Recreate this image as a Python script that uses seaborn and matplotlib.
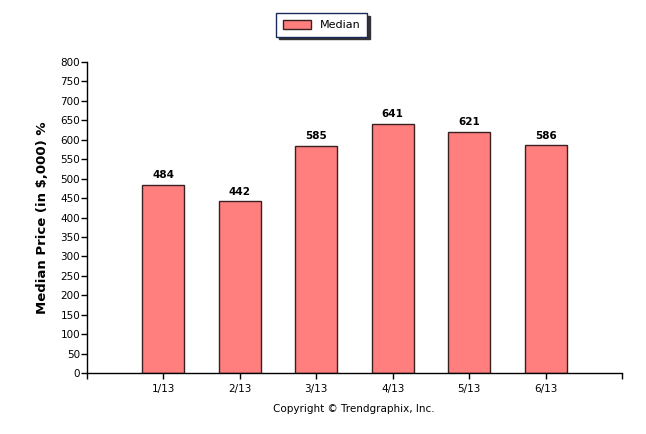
import pandas as pd
import numpy as np
import matplotlib.pyplot as plt
import seaborn as sns

# Chart data
months = ["1/13", "2/13", "3/13", "4/13", "5/13", "6/13"]
median_price = [484, 442, 585, 641, 621, 586]

df = pd.DataFrame({"month": months, "median": median_price})

sns.set_style("white", {"xtick.bottom": True, "ytick.left": True,
                        "text.color": "black", "xtick.color": "black",
                        "ytick.color": "black", "axes.labelcolor": "black"})
plt.rcParams['font.family'] = ['DejaVu Sans']

fig = plt.figure(figsize=(6.46, 4.34), dpi=100)
ax = fig.add_axes([0.1347, 0.1406, 0.8283, 0.7164])

sns.barplot(data=df, x="month", y="median", color="#ff7f7f", saturation=1,
            width=0.55, edgecolor="#3a2020", linewidth=1.0, ax=ax, label="Median")

# value labels
for i, v in enumerate(df["median"]):
    ax.text(i, v + 12, str(v), ha="center", va="bottom", fontsize=7.5, fontweight="bold")

ax.set_xlim(-1, 6)
ax.set_ylim(0, 800)
ax.set_yticks(np.arange(0, 801, 50))
ax.set_xticks([-1] + list(range(len(months))) + [6])
ax.set_xticklabels([""] + months + [""])
ax.tick_params(axis="both", labelsize=7.5, direction="out", length=4, width=1, color="black")
ax.tick_params(axis="x", pad=4)
ax.tick_params(axis="y", pad=1)
for s in ["top", "right"]:
    ax.spines[s].set_visible(False)
for s in ["left", "bottom"]:
    ax.spines[s].set_color("black")
    ax.spines[s].set_linewidth(1)

ax.set_xlabel("")
ax.set_ylabel("Median Price (in $,000) %", fontsize=9.5, fontweight="bold", labelpad=8)

handles, labels = ax.get_legend_handles_labels()
if ax.get_legend():
    ax.get_legend().remove()
leg = fig.legend(handles, labels, loc="center", bbox_to_anchor=(0.498, 0.943), frameon=True,
                 fancybox=False, shadow={"ox": 2, "oy": -2, "color": "#333333", "alpha": 1},
                 fontsize=8, handlelength=2.5, handleheight=0.9, borderpad=0.6)
leg.get_frame().set_edgecolor("#1a2a5a")
leg.get_frame().set_linewidth(1)

fig.text(0.548, 0.057, "Copyright © Trendgraphix, Inc.", ha="center", va="center", fontsize=7.5)

fig.savefig("out.png", dpi=100)
